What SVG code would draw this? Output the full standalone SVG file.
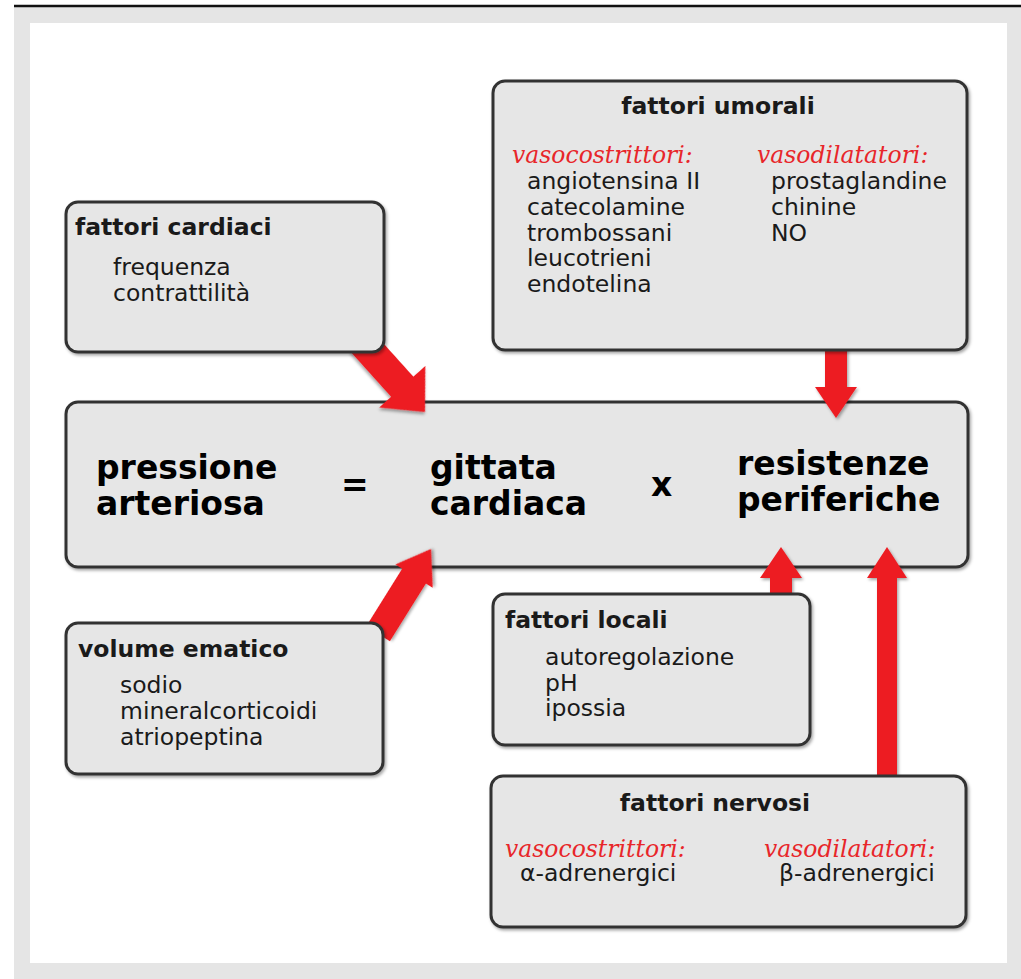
<svg xmlns="http://www.w3.org/2000/svg" width="1021" height="979" viewBox="0 0 1021 979">
<defs>
<filter id="sh" x="-10%" y="-10%" width="130%" height="130%">
<feDropShadow dx="1.5" dy="2" stdDeviation="1.5" flood-color="#000" flood-opacity="0.35"/>
</filter>
<style>
.box{fill:#e6e6e6;stroke:#333;stroke-width:3;filter:url(#sh)}
.arr{fill:#ed1c24;filter:url(#sh)}
.t{font-family:"DejaVu Sans",sans-serif;font-weight:bold;font-size:23.5px;fill:#1a1a1a}
.b{font-family:"DejaVu Sans",sans-serif;font-size:23.5px;fill:#1a1a1a}
.r{font-family:"DejaVu Serif",serif;font-style:italic;font-size:23.5px;fill:#e8262a}
.m{font-family:"DejaVu Sans",sans-serif;font-weight:bold;font-size:33px;fill:#000}
</style>
</defs>
<rect x="14" y="7" width="1007" height="972" fill="#e5e5e5"/>
<line x1="14" y1="6" x2="1021" y2="6" stroke="#111" stroke-width="2.5"/>
<rect x="30" y="23" width="977" height="940" fill="#fff"/>

<g id="main">
<rect class="box" x="66" y="402" width="902" height="165" rx="12"/>
<text class="m" x="96" y="479">pressione</text>
<text class="m" x="96" y="515">arteriosa</text>
<text class="m" x="341" y="496">=</text>
<text class="m" x="651" y="496">x</text>
<text class="m" x="430" y="479">gittata</text>
<text class="m" x="430" y="515">cardiaca</text>
<text class="m" x="737" y="475">resistenze</text>
<text class="m" x="737" y="511">periferiche</text>
</g>

<g id="connectors">
<g transform="translate(425,412) rotate(48)"><polygon class="arr" points="-95,-15 -34,-15 -34,-31 0,0 -34,31 -34,15 -95,15"/></g>
<polygon class="arr" points="825,345 847,345 847,387 857,387 836,418 815,387 825,387"/>
<g transform="translate(431,549) rotate(-58)"><polygon class="arr" points="-100,-14 -32,-14 -32,-22 0,0 -32,22 -32,14 -100,14"/></g>
<polygon class="arr" points="770,600 792,600 792,578 802,578 781,547 760,578 770,578"/>
<polygon class="arr" points="877,780 897,780 897,578 907,578 887,547 867,578 877,578"/>
</g>

<g id="cardiaci">
<rect class="box" x="66" y="202" width="318" height="150" rx="12"/>
<text class="t" x="75" y="235">fattori cardiaci</text>
<text class="b" x="113" y="275">frequenza</text>
<text class="b" x="113" y="301">contrattilità</text>
</g>

<g id="umorali">
<rect class="box" x="493" y="81" width="474" height="269" rx="12"/>
<text class="t" x="718" y="114" text-anchor="middle">fattori umorali</text>
<text class="r" x="512" y="163">vasocostrittori:</text>
<text class="b" x="527" y="189">angiotensina II</text>
<text class="b" x="527" y="215">catecolamine</text>
<text class="b" x="527" y="241">trombossani</text>
<text class="b" x="527" y="266">leucotrieni</text>
<text class="b" x="527" y="292">endotelina</text>
<text class="r" x="757" y="163">vasodilatatori:</text>
<text class="b" x="771" y="189">prostaglandine</text>
<text class="b" x="771" y="215">chinine</text>
<text class="b" x="771" y="241">NO</text>
</g>

<g id="volume">
<rect class="box" x="66" y="623" width="317" height="151" rx="12"/>
<text class="t" x="78" y="657">volume ematico</text>
<text class="b" x="120" y="693">sodio</text>
<text class="b" x="120" y="719">mineralcorticoidi</text>
<text class="b" x="120" y="745">atriopeptina</text>
</g>

<g id="locali">
<rect class="box" x="493" y="594" width="317" height="151" rx="12"/>
<text class="t" x="505" y="628">fattori locali</text>
<text class="b" x="545" y="665">autoregolazione</text>
<text class="b" x="545" y="691">pH</text>
<text class="b" x="545" y="716">ipossia</text>
</g>

<g id="nervosi">
<rect class="box" x="491" y="776" width="475" height="151" rx="12"/>
<text class="t" x="715" y="811" text-anchor="middle">fattori nervosi</text>
<text class="r" x="505" y="857">vasocostrittori:</text>
<text class="b" x="520" y="881">α-adrenergici</text>
<text class="r" x="764" y="857">vasodilatatori:</text>
<text class="b" x="779" y="881">β-adrenergici</text>
</g>
</svg>
